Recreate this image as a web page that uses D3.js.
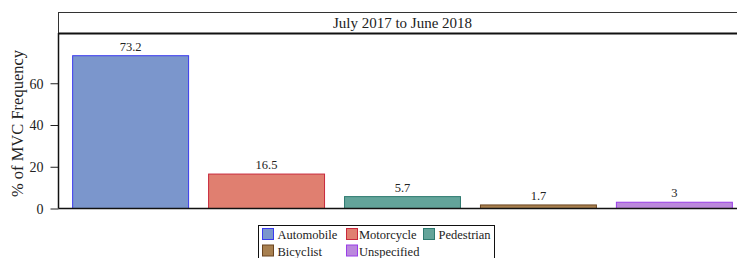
<!DOCTYPE html>
<html><head><meta charset="utf-8">
<script src="https://cdn.jsdelivr.net/npm/d3@7"></script>
<style>body{margin:0;background:#fff}svg{display:block}text{font-family:"Liberation Serif","Times New Roman",serif;fill:#222}</style>
</head><body>
<script>
const categories = ["Automobile","Motorcycle","Pedestrian","Bicyclist","Unspecified"];
const values = [73.2, 16.5, 5.7, 1.7, 3];
const labels = ["73.2","16.5","5.7","1.7","3"];
const yTicks = [0, 20, 40, 60];
const fills = ["#7b96cc","#e07f70","#63a49a","#a88050","#bb88dd"];
const strokes = ["#3a3aee","#c8283c","#2e7a70","#6b4520","#9a3ee8"];
const title = "July 2017 to June 2018";
const yLabel = "% of MVC Frequency";

(function(){
const W = 737, H = 258;
const svg = d3.select("body").append("svg").attr("width", W).attr("height", H)
  .attr("font-family", '"Liberation Serif",serif');
const left = 58.5, right = 746.5, base = 208.5, plotTop = 34;
const x = d3.scaleBand().domain(categories).range([left, right]).paddingInner(0.147).paddingOuter(0.104);
const y = d3.scaleLinear().domain([0, 83.6]).range([base, plotTop]);

// strip
svg.append("rect").attr("x", left).attr("y", 12.5).attr("width", right - left).attr("height", 21)
  .attr("fill", "#fff").attr("stroke", "#333").attr("stroke-width", 1);
svg.append("line").attr("x1", left).attr("x2", right).attr("y1", 33.5).attr("y2", 33.5)
  .attr("stroke", "#111").attr("stroke-width", 2);
svg.append("text").attr("x", (left + right) / 2).attr("y", 27.5).attr("text-anchor", "middle")
  .attr("font-size", 15).text(title);

// bars
svg.selectAll("rect.bar").data(categories).join("rect").attr("class", "bar")
  .attr("x", d => x(d)).attr("width", x.bandwidth())
  .attr("y", (d, i) => y(values[i])).attr("height", (d, i) => y(0) - y(values[i]))
  .attr("fill", (d, i) => fills[i]).attr("stroke", (d, i) => strokes[i]).attr("stroke-width", 1);

svg.selectAll("text.val").data(categories).join("text").attr("class", "val")
  .attr("x", d => x(d) + x.bandwidth() / 2).attr("y", (d, i) => y(values[i]) - 5)
  .attr("text-anchor", "middle").attr("font-size", 12.5).text((d, i) => labels[i]);

// axes
const ya = svg.append("g").attr("transform", `translate(${left},0)`)
  .call(d3.axisLeft(y).tickValues(yTicks).tickSize(8).tickPadding(7).tickSizeOuter(0));
ya.attr("font-family", '"Liberation Serif",serif');
ya.select(".domain").remove();
ya.selectAll(".tick line").attr("stroke", "#222");
ya.selectAll(".tick text").attr("font-size", 14).attr("fill", "#222").attr("dy", "0.35em");
svg.append("line").attr("x1", left).attr("x2", left).attr("y1", 33).attr("y2", base).attr("stroke", "#111").attr("stroke-width", 1.5);
svg.append("line").attr("x1", left).attr("x2", right).attr("y1", base).attr("y2", base).attr("stroke", "#111").attr("stroke-width", 1.5);

svg.append("text").attr("transform", `translate(22.5,123.5) rotate(-90)`)
  .attr("text-anchor", "middle").attr("font-size", 16.5).text(yLabel);

// legend
const lg = svg.append("g");
lg.append("rect").attr("x", 258.5).attr("y", 225.5).attr("width", 236).attr("height", 40)
  .attr("fill", "#fff").attr("stroke", "#111").attr("stroke-width", 1);
const cols = [262, 346, 423];
const textCols = [277.5, 359, 438.5];
categories.forEach((c, i) => {
  const r = Math.floor(i / 3), col = i % 3;
  const sx = cols[col] + 0.5, sy = 228.5 + r * 16.5;
  lg.append("rect").attr("x", sx).attr("y", sy).attr("width", 11).attr("height", 11)
    .attr("fill", fills[i]).attr("stroke", strokes[i]).attr("stroke-width", 1);
  lg.append("text").attr("x", textCols[col]).attr("y", sy + 10.5).attr("font-size", 12.5).text(c);
});
})();
</script>
</body></html>
